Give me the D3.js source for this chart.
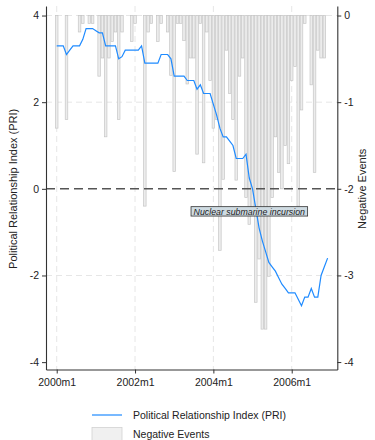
<!DOCTYPE html>
<html>
<head>
<meta charset="utf-8">
<script src="https://cdn.jsdelivr.net/npm/d3@7"></script>
<style>
  html, body { margin: 0; padding: 0; background: #fff; }
  svg { display: block; font-family: "Liberation Sans", Arial, sans-serif; }
</style>
</head>
<body>
<div id="chart"></div>
<script>
// ---- data (monthly, starting 2000m1) ----
const pri = [
  3.3, 3.3, 3.3, 3.1, 3.2, 3.3, 3.3, 3.3, 3.45, 3.7, 3.7, 3.7,
  3.65, 3.6, 3.6, 3.3, 3.3, 3.3, 3.3, 3.0, 3.05, 3.2, 3.2, 3.2,
  3.2, 3.2, 3.3, 2.9, 2.9, 2.9, 2.9, 2.9, 3.1, 3.1, 3.1, 3.0,
  2.6, 2.6, 2.6, 2.6, 2.5, 2.5, 2.5, 2.3, 2.4, 2.2, 2.2, 2.2,
  1.95, 1.7, 1.4, 1.2, 1.2, 1.1, 1.0, 0.7, 0.7, 0.7, 0.8, 0.25,
  0.0, -0.45, -0.9, -1.2, -1.45, -1.7, -1.8, -1.9, -2.05, -2.2, -2.3, -2.4,
  -2.4, -2.4, -2.55, -2.7, -2.5, -2.5, -2.3, -2.5, -2.5, -2.0, -1.8, -1.6
];
const negEvents = [
  -1.30, 0, 0, -1.20, 0, 0, 0, -0.19, -0.09, 0, -0.09, -0.09,
  0, -0.70, -0.49, -1.40, -0.49, -0.30, -0.19, -1.20, -0.19, 0, 0, -0.30,
  -0.09, 0, 0, -2.20, -0.19, -0.09, 0, -0.30, -0.09, 0, -0.19, -0.69,
  -1.80, -0.09, -0.09, -0.29, -0.79, -0.49, -0.49, -1.60, -0.09, -1.70, -0.19, -0.75,
  -1.30, -1.20, -2.71, -1.89, -0.40, -0.90, -1.20, -1.90, -0.70, -0.49, -2.10, -2.41,
  -2.25, -3.31, -2.81, -3.62, -3.62, -3.01, -2.10, -1.40, -1.81, -2.00, -1.50, -1.71,
  -0.75, -0.59, -2.20, -1.09, -0.09, 0, -0.80, -1.81, -0.40, -0.49, -0.49
];
const xTickMonths = [0, 24, 48, 72];
const xTickLabels = ["2000m1", "2002m1", "2004m1", "2006m1"];
const leftTicks = [4, 2, 0, -2, -4];
const rightTicks = [0, -1, -2, -3, -4];
const leftGrid = [4, 2, -2];
const annotation = { month: 59, value: -0.52, label: "Nuclear submarine incursion" };
const leftTitle = "Political Relationship Index (PRI)";
const rightTitle = "Negative Events";
const legendItems = ["Political Relationship Index (PRI)", "Negative Events"];

// ---- layout ----
const W = 375, H = 440;
const svg = d3.select("#chart").append("svg").attr("width", W).attr("height", H);

const x = d3.scaleLinear().domain([-3.28, 85.97]).range([46, 337.3]);
const yL = d3.scaleLinear().domain([-4.17, 4.22]).range([369.5, 6]);
const yR = d3.scaleLinear().domain([-4.086, 0.11]).range([369.5, 6]);
const step = x(1) - x(0);
const lineColor = "#1f8bff";

// grid
const g = svg.append("g");
g.selectAll(".hg").data(leftGrid).enter().append("line")
  .attr("x1", x.range()[0]).attr("x2", x.range()[1])
  .attr("y1", d => yL(d)).attr("y2", d => yL(d))
  .attr("stroke", "#e6e6e6").attr("stroke-width", 1).attr("stroke-dasharray", "6,4");
g.selectAll(".vg").data(xTickMonths).enter().append("line")
  .attr("x1", d => x(d)).attr("x2", d => x(d))
  .attr("y1", yL.range()[1]).attr("y2", yL.range()[0])
  .attr("stroke", "#e6e6e6").attr("stroke-width", 1).attr("stroke-dasharray", "6,4");

// bars (negative events, right axis)
const bw = step * 0.78;
svg.append("g").selectAll("rect")
  .data(negEvents.map((v, i) => ({ i, v })).filter(d => d.v !== 0))
  .enter().append("rect")
  .attr("x", d => x(d.i) - bw / 2)
  .attr("y", yR(0))
  .attr("width", bw)
  .attr("height", d => yR(d.v) - yR(0))
  .attr("fill", "#ececec")
  .attr("stroke", "#c6c6c6")
  .attr("stroke-width", 0.7);

// zero reference line
svg.append("line")
  .attr("x1", x.range()[0]).attr("x2", x.range()[1])
  .attr("y1", yL(0)).attr("y2", yL(0))
  .attr("stroke", "#555").attr("stroke-width", 1.5).attr("stroke-dasharray", "9,5");

// PRI line
const lineGen = d3.line().x((d, i) => x(i)).y(d => yL(d));
svg.append("path").datum(pri)
  .attr("d", lineGen)
  .attr("fill", "none").attr("stroke", lineColor).attr("stroke-width", 1.2);

// annotation
const ax = x(annotation.month), ay = yL(annotation.value);
const annG = svg.append("g");
const annText = annG.append("text")
  .attr("x", ax).attr("y", ay + 3.2)
  .attr("text-anchor", "middle")
  .attr("font-size", 8.8).attr("font-style", "italic").attr("fill", "#222")
  .text(annotation.label);
const bb = annText.node().getBBox();
annG.insert("rect", "text")
  .attr("x", bb.x - 2.5).attr("y", ay - 4.7)
  .attr("width", bb.width + 5).attr("height", 9.4)
  .attr("fill", "#cfdbe2").attr("stroke", "#333").attr("stroke-width", 0.8);

// axes
const axisStyle = sel => {
  sel.selectAll("path.domain").attr("stroke", "#333").attr("stroke-width", 1.1);
  sel.selectAll(".tick line").attr("stroke", "#333");
  sel.selectAll(".tick text").attr("fill", "#222").attr("font-size", 10.5)
    .attr("font-family", "Liberation Sans, Arial, sans-serif");
};
const intFmt = d => String(d);
svg.append("g").attr("transform", `translate(0,${yL.range()[0]})`)
  .call(d3.axisBottom(x).tickValues(xTickMonths)
    .tickFormat((d, i) => xTickLabels[i]).tickSize(4).tickSizeOuter(0).tickPadding(5))
  .call(axisStyle);
svg.append("g").attr("transform", `translate(${x.range()[0]},0)`)
  .call(d3.axisLeft(yL).tickValues(leftTicks).tickFormat(intFmt)
    .tickSize(4).tickSizeOuter(0).tickPadding(3))
  .call(axisStyle);
svg.append("g").attr("transform", `translate(${x.range()[1]},0)`)
  .call(d3.axisRight(yR).tickValues(rightTicks).tickFormat(intFmt)
    .tickSize(4).tickSizeOuter(0).tickPadding(3))
  .call(axisStyle);

// axis titles
svg.append("text")
  .attr("transform", `translate(17,${yL(0)}) rotate(-90)`)
  .attr("text-anchor", "middle").attr("font-size", 11).attr("fill", "#222")
  .text(leftTitle);
svg.append("text")
  .attr("transform", `translate(366,${yL(0)}) rotate(-90)`)
  .attr("text-anchor", "middle").attr("font-size", 11).attr("fill", "#222")
  .text(rightTitle);

// legend
const lg = svg.append("g");
lg.append("line").attr("x1", 92).attr("x2", 122).attr("y1", 415).attr("y2", 415)
  .attr("stroke", lineColor).attr("stroke-width", 1.2);
lg.append("text").attr("x", 133).attr("y", 419).attr("font-size", 10.5).attr("fill", "#222")
  .text(legendItems[0]);
lg.append("rect").attr("x", 92).attr("y", 427.5).attr("width", 30).attr("height", 14)
  .attr("fill", "#f0f0f0").attr("stroke", "#d2d2d2").attr("stroke-width", 0.8);
lg.append("text").attr("x", 133).attr("y", 438).attr("font-size", 10.5).attr("fill", "#222")
  .text(legendItems[1]);
</script>
</body>
</html>
